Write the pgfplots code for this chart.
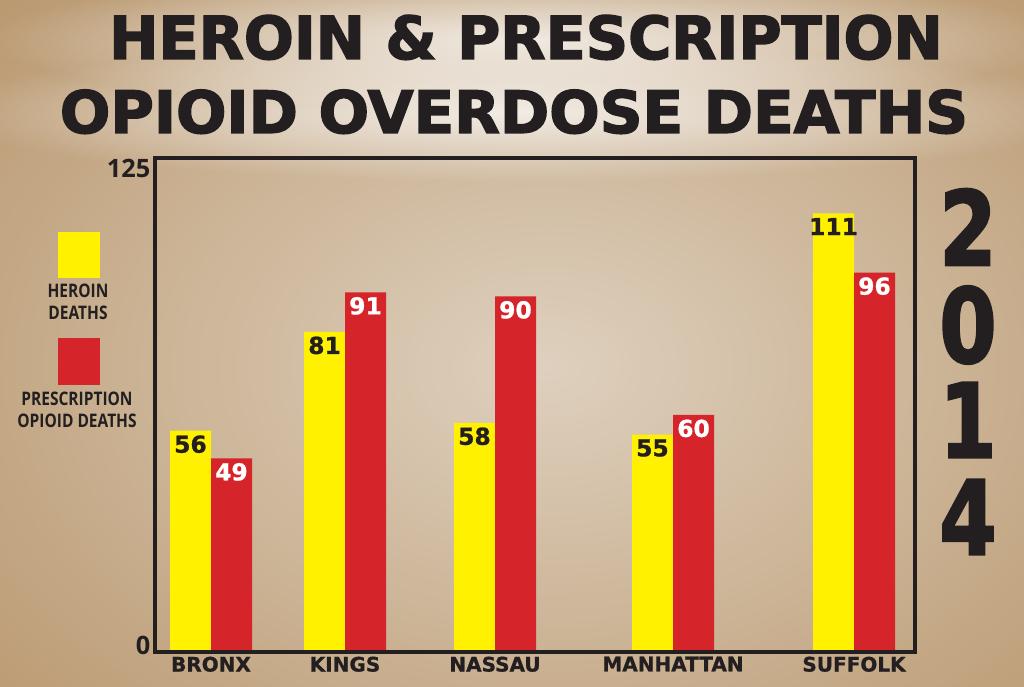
\documentclass[border=0pt]{standalone}
\usepackage{fontspec}
\setmainfont{DejaVu Sans}
\newfontfamily\osans{Open Sans}
\newfontfamily\heavy{DejaVu Sans}[BoldFeatures={FakeBold=2.5}]
\newfontfamily\semiheavy{DejaVu Sans}[BoldFeatures={FakeBold=1}]
\usepackage{graphicx}
\usepackage{pgfplots}
\pgfplotsset{compat=1.18}
\usetikzlibrary{fadings}

\definecolor{bg}{RGB}{184,150,108}
\definecolor{bglight}{RGB}{222,208,190}
\definecolor{ink}{RGB}{35,31,32}
\definecolor{heroin}{RGB}{255,241,0}
\definecolor{rx}{RGB}{214,36,43}

\tikzfading[name=glow, inner color=transparent!0, outer color=transparent!100]

\newcommand\lineone{\resizebox{625pt}{33pt}{\heavy\bfseries HEROIN \& PRESCRIPTION}}
\newcommand\linetwo{\resizebox{681pt}{32.5pt}{\heavy\bfseries OPIOID OVERDOSE DEATHS}}

\begin{document}
\begin{tikzpicture}
\useasboundingbox (0,0) rectangle (768pt,514.5pt);
\fill[bg] (0,0) rectangle (768pt,514.5pt);
\begin{scope}
  \clip (0,0) rectangle (768pt,514.5pt);
  \shade[inner color=bglight, outer color=bg] (410pt,240pt) ellipse (600pt and 420pt);
\end{scope}

% pixel coordinates, origin top left
\begin{scope}[x=0.75pt, y=-0.75pt, yshift=514.5pt]
  \fill[white, opacity=0.75, path fading=glow] (526-540,40-70) rectangle (526+540,40+70);
  \fill[white, opacity=0.75, path fading=glow] (514-580,112-70) rectangle (514+580,112+70);
  \node[anchor=base, inner sep=0, text=ink] at (526,59) {\lineone};
  \node[anchor=base, inner sep=0, text=ink] at (514,133) {\linetwo};

  % legend
  \fill[heroin] (58,232) rectangle (100,278);
  \node[font=\osans\bfseries\fontsize{14}{16.5}\selectfont, align=center, text=ink] at (78,302)
    {\scalebox{.83}[1]{HEROIN}\\\scalebox{.83}[1]{DEATHS}};
  \fill[rx] (58,338) rectangle (100,385);
  \node[font=\osans\bfseries\fontsize{14}{16.5}\selectfont, align=center, text=ink] at (77,410)
    {\scalebox{.83}[1]{PRESCRIPTION}\\\scalebox{.83}[1]{OPIOID DEATHS}};

  % year
  \foreach \d/\yy in {2/227,0/325,1/420,4/517}
    \node[font=\heavy\bfseries\fontsize{77}{77}\selectfont, text=ink, inner sep=0] at (968,\yy) {\scalebox{.8}[1]{\d}};
\end{scope}

\begin{axis}[
  at={(116.25pt,25.5pt)}, anchor=south west,
  scale only axis, width=570pt, height=370.5pt,
  xmin=155, xmax=915, ymin=0, ymax=125,
  ybar=0pt, bar width=41,
  axis on top,
  axis line style={line width=3pt, ink},
  major tick length=0pt,
  xtick={211,345,495,673,854},
  xticklabels={BRONX,KINGS,NASSAU,MANHATTAN,SUFFOLK},
  xticklabel style={font=\semiheavy\bfseries\fontsize{15}{15}\selectfont, text=ink},
  ytick={0},
  extra y ticks={125},
  yticklabel style={font=\osans\bfseries\fontsize{19}{19}\selectfont, text=ink, yshift=5pt},
  extra y tick style={yticklabel style={yshift=-12.5pt}},
  /pgf/number format/assume math mode=true,
  nodes near coords,
  every node near coord/.append style={anchor=north, font=\semiheavy\bfseries\fontsize{17.5}{17.5}\selectfont},
]
\addplot[fill=heroin, draw=none, bar shift=-20.5, every node near coord/.append style={text=ink}]
  coordinates {(211,56) (345,81) (495,58) (673,55) (854,111)};
\addplot[fill=rx, draw=none, bar shift=20.5, every node near coord/.append style={text=white}]
  coordinates {(211,49) (345,91) (495,90) (673,60) (854,96)};
\end{axis}
\end{tikzpicture}
\end{document}
